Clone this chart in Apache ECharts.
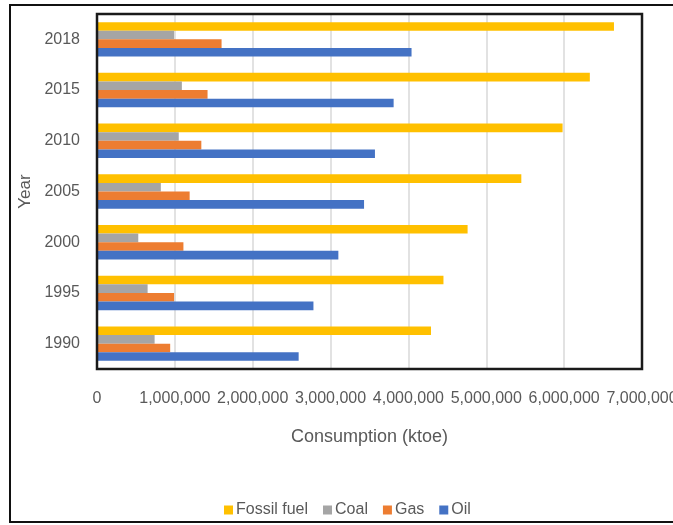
<!DOCTYPE html>
<html>
<head>
<meta charset="utf-8">
<script src="https://cdn.jsdelivr.net/npm/echarts@6/dist/echarts.min.js"></script>
<style>
html,body{margin:0;padding:0;background:#fff;}
#chart{width:673px;height:525px;}
</style>
</head>
<body>
<div id="chart"></div>
<script>
var years = ['1990', '1995', '2000', '2005', '2010', '2015', '2018'];
var fossilFuel = [4290000, 4450000, 4760000, 5450000, 5980000, 6330000, 6640000];
var coal = [740000, 650000, 530000, 820000, 1050000, 1090000, 990000];
var gas = [940000, 990000, 1110000, 1190000, 1340000, 1420000, 1600000];
var oil = [2590000, 2780000, 3100000, 3430000, 3570000, 3810000, 4040000];
var seriesNames = ['Fossil fuel', 'Coal', 'Gas', 'Oil'];
var xMin = 0, xMax = 7000000, xStep = 1000000;

var FONT = 'Liberation Sans, Arial, sans-serif';
var TXT = '#595959';
var chart = echarts.init(document.getElementById('chart'), null, {renderer: 'canvas'});

function fmt(v) {
  return String(v).replace(/\B(?=(\d{3})+(?!\d))/g, ',');
}

var option = {
  animation: false,
  backgroundColor: '#ffffff',
  color: ['#FFC000', '#A5A5A5', '#ED7D31', '#4472C4'],
  graphic: [{
    type: 'rect',
    shape: {x: 10, y: 5, width: 690, height: 517},
    style: {fill: 'none', stroke: '#111', lineWidth: 2},
    silent: true,
    z: 0
  }, {
    type: 'rect',
    shape: {x: 97, y: 14, width: 545, height: 355},
    style: {fill: 'none', stroke: '#1a1a1a', lineWidth: 2.5},
    silent: true,
    z: 100
  }],
  grid: {
    left: 97, top: 14, width: 545, height: 355,
    show: false,
    containLabel: false,
    outerBoundsMode: 'none'
  },
  legend: {
    data: seriesNames,
    left: 219, top: 497,
    itemWidth: 9, itemHeight: 9, itemGap: 15,
    icon: 'rect',
    textStyle: {fontFamily: FONT, fontSize: 16, color: TXT, padding: [0, 0, 0, -2]}
  },
  xAxis: {
    type: 'value',
    min: xMin, max: xMax, interval: xStep,
    name: 'Consumption (ktoe)',
    nameLocation: 'middle',
    nameGap: 59,
    nameTextStyle: {fontFamily: FONT, fontSize: 18, color: TXT},
    axisLine: {show: false},
    axisTick: {show: false},
    axisLabel: {fontFamily: FONT, fontSize: 16, color: TXT, margin: 22, formatter: fmt},
    splitLine: {show: true, lineStyle: {color: '#d9d9d9', width: 1.5}}
  },
  yAxis: {
    type: 'category',
    data: years,
    name: 'Year',
    nameLocation: 'middle',
    nameRotate: 90,
    nameGap: 57,
    nameTextStyle: {fontFamily: FONT, fontSize: 17, color: TXT},
    axisLine: {show: false},
    axisTick: {show: false},
    axisLabel: {fontFamily: FONT, fontSize: 16, color: TXT, margin: 17},
    splitLine: {show: false}
  },
  series: [
    {name: 'Fossil fuel', type: 'bar', data: fossilFuel, barWidth: 8.6, barGap: '0%'},
    {name: 'Coal', type: 'bar', data: coal, barWidth: 8.6, barGap: '0%'},
    {name: 'Gas', type: 'bar', data: gas, barWidth: 8.6, barGap: '0%'},
    {name: 'Oil', type: 'bar', data: oil, barWidth: 8.6, barGap: '0%'}
  ]
};
chart.setOption(option);
</script>
</body>
</html>
